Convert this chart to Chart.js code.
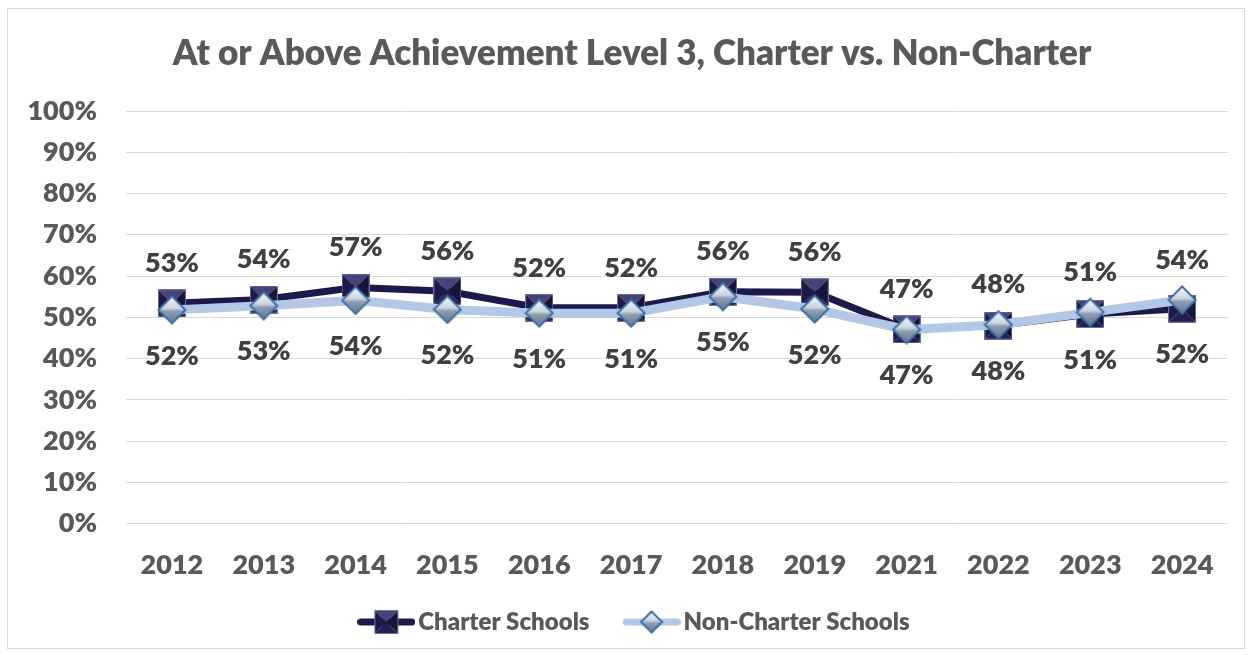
<!DOCTYPE html>
<html>
<head>
<meta charset="utf-8">
<script src="https://cdn.jsdelivr.net/npm/chart.js@4/dist/chart.umd.min.js"></script>
<style>
  html, body { margin: 0; padding: 0; background: #fff; }
  .chart-container {
    position: absolute; left: 7px; top: 8px;
    width: 1238px; height: 641px;
    border: 1px solid #d9d9d9; box-sizing: border-box;
  }
</style>
</head>
<body>
<div class="chart-container"><canvas id="achievement-chart"></canvas></div>
<script>
const years = ['2012', '2013', '2014', '2015', '2016', '2017', '2018', '2019', '2021', '2022', '2023', '2024'];
const charterValues = [53.4, 54.3, 57.2, 56.3, 52.3, 52.3, 56.2, 56.1, 47.1, 48.0, 50.8, 52.1];
const nonCharterValues = [51.8, 52.8, 54.1, 51.9, 51.0, 51.0, 55.0, 52.0, 47.0, 48.2, 51.2, 54.2];
const yTicks = [0, 10, 20, 30, 40, 50, 60, 70, 80, 90, 100];

const FONT = 'Lato, "Liberation Sans", sans-serif';
const textGray = '#595959';
const labelGray = '#404040';

// square marker with a pyramid bevel, like the office chart
function squareMarker(size) {
  const c = document.createElement('canvas');
  c.width = size; c.height = size;
  const g = c.getContext('2d');
  const m = size / 2;
  const tri = (pts, col) => {
    g.beginPath();
    g.moveTo(pts[0], pts[1]); g.lineTo(pts[2], pts[3]); g.lineTo(pts[4], pts[5]);
    g.closePath(); g.fillStyle = col; g.fill();
  };
  tri([0, 0, size, 0, m, m], '#45437a');
  tri([0, 0, 0, size, m, m], '#1d1a48');
  tri([size, 0, size, size, m, m], '#16143a');
  tri([0, size, size, size, m, m], '#211e52');
  g.strokeStyle = '#6b7399';
  g.lineWidth = 1;
  g.strokeRect(0.5, 0.5, size - 1, size - 1);
  return c;
}

function diamondMarker(size) {
  const c = document.createElement('canvas');
  c.width = size; c.height = size;
  const g = c.getContext('2d');
  const m = size / 2;
  const grad = g.createLinearGradient(0, 0, 0, size);
  grad.addColorStop(0, '#ffffff');
  grad.addColorStop(0.45, '#c9d3e0');
  grad.addColorStop(0.55, '#8e9db3');
  grad.addColorStop(1, '#5f7089');
  g.beginPath();
  g.moveTo(m, 1.5); g.lineTo(size - 1.5, m); g.lineTo(m, size - 1.5); g.lineTo(1.5, m);
  g.closePath();
  g.fillStyle = grad; g.fill();
  g.strokeStyle = '#3f6fa6'; g.lineWidth = 2; g.stroke();
  return c;
}

function legendIcon(marker, color, width) {
  const c = document.createElement('canvas');
  c.width = 58; c.height = marker.height;
  const g = c.getContext('2d');
  g.strokeStyle = color; g.lineWidth = width; g.lineCap = 'round';
  g.beginPath(); g.moveTo(width / 2, c.height / 2); g.lineTo(58 - width / 2, c.height / 2); g.stroke();
  g.drawImage(marker, (58 - marker.width) / 2, 0);
  return c;
}

const charterMarker = squareMarker(28);
const nonCharterMarker = diamondMarker(30);
const charterLegend = legendIcon(squareMarker(24), '#1c1a4a', 7);
const nonCharterLegend = legendIcon(diamondMarker(24), '#b4c7e7', 7);

// value labels: the higher series gets its label above, the other below
const valueLabels = {
  id: 'valueLabels',
  afterDatasetsDraw(chart) {
    const ctx = chart.ctx;
    ctx.save();
    ctx.font = `800 27px ${FONT}`;
    ctx.fillStyle = labelGray;
    ctx.textAlign = 'center';
    ctx.textBaseline = 'middle';
    chart.data.datasets.forEach((ds, i) => {
      const other = chart.data.datasets[1 - i].data;
      chart.getDatasetMeta(i).data.forEach((pt, j) => {
        const above = ds.data[j] > other[j] || (ds.data[j] === other[j] && i === 1);
        const y = above ? pt.y - 40 : pt.y + 46;
        ctx.fillText(Math.round(ds.data[j]) + '%', pt.x, y);
      });
    });
    ctx.restore();
  }
};

// title and legend sit a little right of the canvas centre in the original
const nudgeBoxes = {
  id: 'nudgeBoxes',
  afterLayout(chart) {
    if (chart.titleBlock) { chart.titleBlock.left += 14; chart.titleBlock.right += 14; }
    if (chart.legend) { chart.legend.left += 20; chart.legend.right += 20; }
  }
};

new Chart(document.getElementById('achievement-chart'), {
  type: 'line',
  data: {
    labels: years,
    datasets: [
      {
        label: 'Non-Charter Schools',
        data: nonCharterValues,
        borderColor: '#b4c7e7',
        borderWidth: 9,
        pointStyle: nonCharterMarker,
        order: 0
      },
      {
        label: 'Charter Schools',
        data: charterValues,
        borderColor: '#1c1a4a',
        borderWidth: 7,
        pointStyle: charterMarker,
        order: 1
      }
    ]
  },
  options: {
    responsive: true,
    maintainAspectRatio: false,
    animation: false,
    layout: { padding: { left: 0, right: 16, top: 0, bottom: 4 } },
    scales: {
      x: {
        offset: true,
        grid: { display: false },
        border: { display: false },
        ticks: { color: textGray, font: { family: FONT, size: 27, weight: 800 }, padding: 17 }
      },
      y: {
        min: 0,
        max: 100,
        afterBuildTicks: s => { s.ticks = yTicks.map(v => ({ value: v })); },
        afterFit: s => { s.width = 118; },
        grid: { color: '#d9d9d9', lineWidth: 1, drawTicks: false },
        border: { display: false },
        ticks: {
          color: textGray,
          padding: 29,
          font: { family: FONT, size: 27, weight: 800 },
          callback: v => v + '%'
        }
      }
    },
    plugins: {
      title: {
        display: true,
        text: 'At or Above Achievement Level 3, Charter vs. Non-Charter',
        color: textGray,
        font: { family: FONT, size: 35, weight: 800 },
        padding: { top: 24, bottom: 36 }
      },
      legend: {
        position: 'bottom',
        labels: {
          usePointStyle: true,
          pointStyleWidth: 40,
          boxHeight: 24,
          padding: 12,
          color: textGray,
          font: { family: FONT, size: 24, weight: 800 },
          sort: (a, b) => b.datasetIndex - a.datasetIndex,
          generateLabels: chart => Chart.defaults.plugins.legend.labels.generateLabels(chart).map(item => {
            if (item.datasetIndex === 1) {
              item.pointStyle = charterLegend;
              item.text += '\u2003\u2002';   // wider gap before the next entry
            } else {
              item.pointStyle = nonCharterLegend;
            }
            return item;
          })
        }
      },
      tooltip: { enabled: false }
    }
  },
  plugins: [valueLabels, nudgeBoxes]
});
</script>
</body>
</html>
